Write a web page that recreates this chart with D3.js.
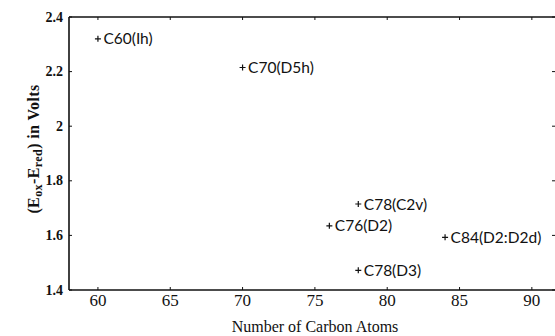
<!DOCTYPE html>
<html>
<head>
<meta charset="utf-8">
<script src="https://cdn.jsdelivr.net/npm/d3@7"></script>
<style>
  body { margin: 0; background: #fff; }
  svg { display: block; }
</style>
</head>
<body>
<div id="chart"></div>
<script>
// fullerene data
const names = ["C60(Ih)", "C70(D5h)", "C78(C2v)", "C76(D2)", "C84(D2:D2d)", "C78(D3)"];
const atoms = [60, 70, 78, 76, 84, 78];
const gaps  = [2.32, 2.215, 1.715, 1.635, 1.593, 1.472];
const xTicks = [60, 65, 70, 75, 80, 85, 90];
const yTicks = [1.4, 1.6, 1.8, 2, 2.2, 2.4];

(function() {
    const width = 555,
          height = 336;
    const left = 69, right = 555, top = 17, bottom = 290;

    const svg = d3.select("#chart")
        .append("svg")
        .attr("width", width)
        .attr("height", height);

    const x = d3.scaleLinear().domain([58, 91.6]).range([left, right]);
    const y = d3.scaleLinear().domain([1.4, 2.4]).range([bottom, top]);

    const ink = "#111";

    // frame: left, top, bottom lines (right side is cut off in the scan)
    const frame = svg.append("g").attr("stroke", ink).attr("stroke-width", 1.6).attr("fill", "none");
    frame.append("line").attr("x1", left).attr("x2", left).attr("y1", top).attr("y2", bottom);
    frame.append("line").attr("x1", left).attr("x2", right).attr("y1", top).attr("y2", top);
    frame.append("line").attr("x1", left).attr("x2", right).attr("y1", bottom).attr("y2", bottom);

    // inward ticks on all sides
    const ticks = svg.append("g").attr("stroke", ink).attr("stroke-width", 1);
    ticks.selectAll(".xb").data(xTicks).enter().append("line")
        .attr("x1", d => x(d)).attr("x2", d => x(d))
        .attr("y1", bottom).attr("y2", bottom - 3);
    ticks.selectAll(".xt").data(xTicks).enter().append("line")
        .attr("x1", d => x(d)).attr("x2", d => x(d))
        .attr("y1", top).attr("y2", top + 3);
    ticks.selectAll(".yl").data(yTicks).enter().append("line")
        .attr("x1", left).attr("x2", left + 3)
        .attr("y1", d => y(d)).attr("y2", d => y(d));
    ticks.selectAll(".yr").data(yTicks).enter().append("line")
        .attr("x1", right - 3).attr("x2", right)
        .attr("y1", d => y(d)).attr("y2", d => y(d));

    const serif = "'Liberation Serif', 'DejaVu Serif', serif";

    svg.selectAll(".xlab").data(xTicks).enter().append("text")
        .attr("x", d => x(d))
        .attr("y", 306)
        .attr("text-anchor", "middle")
        .attr("font-family", serif)
        .attr("font-size", 17)
        .attr("fill", ink)
        .text(d => d);

    svg.selectAll(".ylab").data(yTicks).enter().append("text")
        .attr("x", 63)
        .attr("y", d => y(d))
        .attr("dy", "0.33em")
        .attr("text-anchor", "end")
        .attr("font-family", serif)
        .attr("font-size", 14)
        .attr("font-weight", "bold")
        .attr("fill", ink)
        .text(d => d3.format("")(d));

    svg.append("text")
        .attr("x", 315)
        .attr("y", 332)
        .attr("text-anchor", "middle")
        .attr("font-family", serif)
        .attr("font-size", 16)
        .attr("fill", ink)
        .text("Number of Carbon Atoms");

    // y title with subscripts
    const yt = svg.append("text")
        .attr("transform", "translate(39,149) rotate(-90)")
        .attr("text-anchor", "middle")
        .attr("font-family", serif)
        .attr("font-size", 16)
        .attr("font-weight", "bold")
        .attr("letter-spacing", 0.4)
        .attr("fill", ink);
    yt.append("tspan").text("(E");
    yt.append("tspan").attr("font-size", 12).attr("dy", 3).text("ox");
    yt.append("tspan").attr("dy", -3).text("-E");
    yt.append("tspan").attr("font-size", 12).attr("dy", 3).text("red");
    yt.append("tspan").attr("dy", -3).text(") in Volts");

    // points
    const pts = names.map((n, i) => ({ name: n, atoms: atoms[i], gap: gaps[i] }));
    const g = svg.selectAll(".pt").data(pts).enter().append("g")
        .attr("transform", d => `translate(${x(d.atoms)},${y(d.gap)})`);
    g.append("path")
        .attr("d", "M-3,0H3M0,-3V3")
        .attr("stroke", ink)
        .attr("stroke-width", 1.2);
    g.append("text")
        .attr("x", 5.5)
        .attr("dy", "0.36em")
        .attr("font-family", "Lato, 'Open Sans', sans-serif")
        .attr("font-size", 15.5)
        .attr("fill", ink)
        .text(d => d.name);
})();
</script>
</body>
</html>
